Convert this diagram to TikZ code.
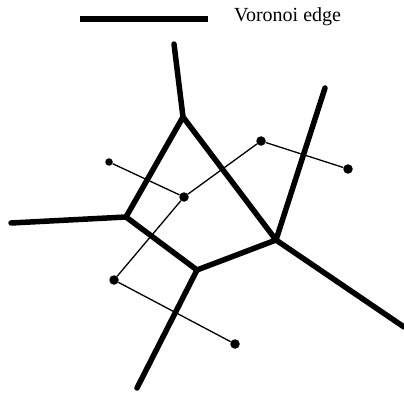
\documentclass[tikz,border=0pt]{standalone}
\usepackage{fontspec}
\setmainfont{Liberation Serif}
\begin{document}
\begin{tikzpicture}[x=1pt,y=-1pt,
  vedge/.style={line width=5.5pt,line cap=round,line join=round},
  dedge/.style={line width=1.3pt},
  site/.style={circle,fill=black,inner sep=0pt,minimum size=9.5pt},
  smallsite/.style={circle,fill=black,inner sep=0pt,minimum size=7.5pt}]
\useasboundingbox (0,0) rectangle (404,393);
% legend
\coordinate (l1) at (80,19);
\coordinate (l2) at (208,19);
\draw[vedge,line cap=butt] (l1) -- (l2);
\node[anchor=west,inner sep=0pt,font=\fontsize{20}{20}\selectfont] (lt) at (234,17) {Voronoi edge};
% Voronoi vertices
\coordinate (A) at (183,117);
\coordinate (B) at (126,217);
\coordinate (C) at (197,270);
\coordinate (D) at (276,240);
% free ends
\coordinate (Aup) at (174,44);
\coordinate (Bleft) at (11,223);
\coordinate (Cdown) at (137,388);
\coordinate (Dup) at (325,88);
\coordinate (Dright) at (404,327);
% sites
\node[smallsite] (s1) at (109,162) {};
\node[site] (s2) at (184,197) {};
\node[site] (s3) at (261,141) {};
\node[site] (s4) at (348,169) {};
\node[site] (s5) at (114,280) {};
\node[site] (s6) at (235,344) {};
% connections between neighbouring sites
\draw[dedge] (s1) -- (s2) -- (s3) -- (s4);
\draw[dedge] (s2) -- (s5) -- (s6);
% Voronoi edges
\draw[vedge] (Aup) -- (A);
\draw[vedge] (A) -- (B) -- (C) -- (D) -- (A);
\draw[vedge] (Bleft) -- (B);
\draw[vedge] (Cdown) -- (C);
\draw[vedge] (Dup) -- (D) -- (Dright);
\end{tikzpicture}
\end{document}
